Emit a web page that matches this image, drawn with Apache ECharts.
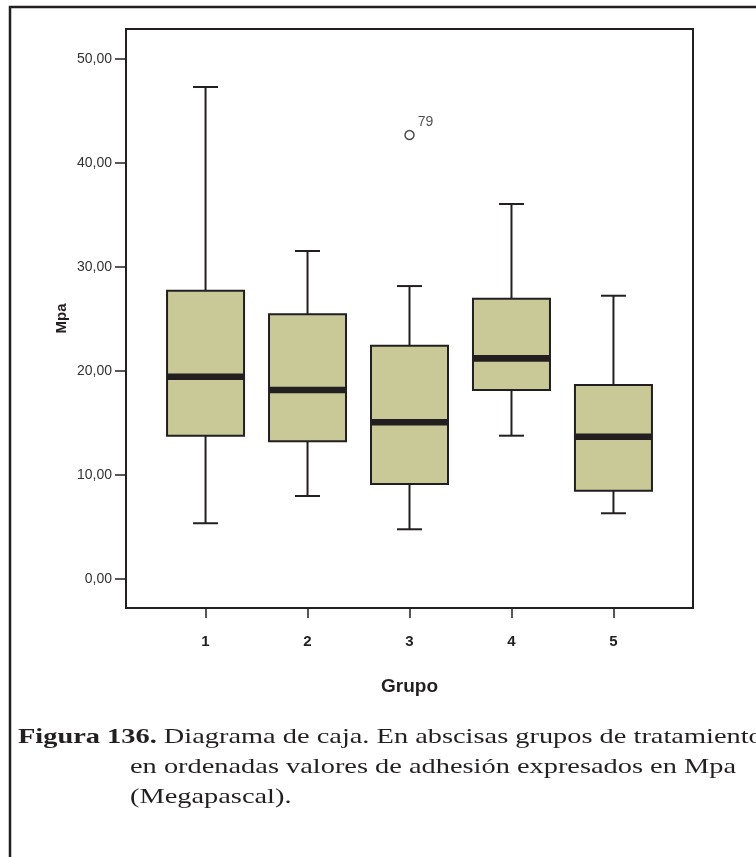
<!DOCTYPE html>
<html>
<head>
<meta charset="utf-8">
<script src="https://cdn.jsdelivr.net/npm/echarts@6/dist/echarts.min.js"></script>
<style>
  html, body { margin: 0; padding: 0; background: #fff; }
  #chart { width: 756px; height: 857px; }
</style>
</head>
<body>
<div id="chart"></div>
<script>
// ---- data ----
const groups = [1, 2, 3, 4, 5];
const whiskerLow = [5.33, 7.95, 4.75, 13.75, 6.29];
const q1 = [13.75, 13.21, 9.11, 18.14, 8.46];
const medians = [19.42, 18.14, 15.04, 21.19, 13.65];
const q3 = [27.69, 25.42, 22.40, 26.92, 18.63];
const whiskerHigh = [47.28, 31.51, 28.14, 36.03, 27.21];
const outlierGroups = [3];
const outlierValues = [42.66];
const outlierLabels = ['79'];
const yTicks = [0, 10, 20, 30, 40, 50];

const boxData = groups.map((g, i) => [g, whiskerLow[i], q1[i], medians[i], q3[i], whiskerHigh[i]]);
const outlierData = outlierGroups.map((g, i) => ({ value: [g, outlierValues[i]], label: outlierLabels[i] }));

const dark = '#231f20';
const fill = '#c9c897';
const BOX_W = 77, CAP_W = 25;

const chart = echarts.init(document.getElementById('chart'), null, { renderer: 'canvas' });

function renderBox(params, api) {
  const x = api.value(0);
  const pMin = api.coord([x, api.value(1)]);
  const pQ1 = api.coord([x, api.value(2)]);
  const pMed = api.coord([x, api.value(3)]);
  const pQ3 = api.coord([x, api.value(4)]);
  const pMax = api.coord([x, api.value(5)]);
  const cx = pMed[0];
  const lineStyle = { stroke: dark, lineWidth: 2, fill: null };
  return {
    type: 'group',
    children: [
      { type: 'line', shape: { x1: cx, y1: pQ3[1], x2: cx, y2: pMax[1] }, style: lineStyle },
      { type: 'line', shape: { x1: cx - CAP_W / 2, y1: pMax[1], x2: cx + CAP_W / 2, y2: pMax[1] }, style: lineStyle },
      { type: 'line', shape: { x1: cx, y1: pQ1[1], x2: cx, y2: pMin[1] }, style: lineStyle },
      { type: 'line', shape: { x1: cx - CAP_W / 2, y1: pMin[1], x2: cx + CAP_W / 2, y2: pMin[1] }, style: lineStyle },
      { type: 'rect', shape: { x: cx - BOX_W / 2, y: pQ3[1], width: BOX_W, height: pQ1[1] - pQ3[1] },
        style: { fill: fill, stroke: dark, lineWidth: 2 } },
      { type: 'rect', shape: { x: cx - BOX_W / 2, y: pMed[1] - 3.3, width: BOX_W, height: 6.6 },
        style: { fill: dark } }
    ]
  };
}

const option = {
  animation: false,
  backgroundColor: '#fff',
  grid: {
    left: 126, top: 29, width: 567, height: 579,
    show: true, borderColor: dark, borderWidth: 2, backgroundColor: 'transparent'
  },
  xAxis: {
    type: 'value', min: 0.22, max: 5.78,
    name: 'Grupo', nameLocation: 'middle', nameGap: 69, nameMoveOverlap: false,
    nameTextStyle: { fontFamily: 'Liberation Sans', fontWeight: 'bold', fontSize: 19, color: dark },
    axisLine: { show: true, onZero: false, lineStyle: { color: dark, width: 2 } },
    axisTick: { show: true, customValues: groups, length: 10, lineStyle: { color: dark, width: 1.5 } },
    axisLabel: { customValues: groups, margin: 26, fontFamily: 'Liberation Sans', fontWeight: 'bold',
      fontSize: 15, color: dark },
    splitLine: { show: false }
  },
  yAxis: {
    type: 'value', min: -2.82, max: 52.86,
    name: 'Mpa', nameLocation: 'middle', nameGap: 57, nameRotate: 90, nameMoveOverlap: false,
    nameTextStyle: { fontFamily: 'Liberation Sans', fontWeight: 'bold', fontSize: 15, color: dark },
    axisLine: { show: true, onZero: false, lineStyle: { color: dark, width: 2 } },
    axisTick: { show: true, customValues: yTicks, length: 11, lineStyle: { color: dark, width: 1.5 } },
    axisLabel: { customValues: yTicks, margin: 14, fontFamily: 'Liberation Sans', fontSize: 14, color: '#333',
      formatter: v => v.toFixed(2).replace('.', ',') },
    splitLine: { show: false }
  },
  series: [
    {
      type: 'custom',
      renderItem: renderBox,
      data: boxData,
      encode: { x: 0, y: [1, 2, 3, 4, 5] },
      clip: false
    },
    {
      type: 'scatter',
      data: outlierData,
      symbol: 'circle', symbolSize: 9,
      itemStyle: { color: '#fff', borderColor: dark, borderWidth: 1.5 },
      label: { show: true, position: 'right', offset: [-2, -13], formatter: p => p.data.label,
        fontFamily: 'Liberation Sans', fontSize: 14, color: dark },
      emphasis: { disabled: true }
    }
  ],
  graphic: [
    { type: 'rect', shape: { x: 10, y: 7, width: 900, height: 900 },
      style: { fill: null, stroke: dark, lineWidth: 2.5 }, silent: true },
    { type: 'text', x: 18, y: 737, scaleX: 1.29,
      style: {
        text: '{b|Figura 136.} Diagrama de caja. En abscisas grupos de tratamiento,',
        fontFamily: 'Liberation Serif', fontSize: 22, fill: dark, verticalAlign: 'middle',
        rich: { b: { fontFamily: 'Liberation Serif', fontWeight: 'bold', fontSize: 22, fill: dark } }
      } },
    { type: 'text', x: 130, y: 767, scaleX: 1.29,
      style: { text: 'en ordenadas valores de adhesión expresados en Mpa',
        fontFamily: 'Liberation Serif', fontSize: 22, fill: dark, verticalAlign: 'middle' } },
    { type: 'text', x: 130, y: 797, scaleX: 1.29,
      style: { text: '(Megapascal).',
        fontFamily: 'Liberation Serif', fontSize: 22, fill: dark, verticalAlign: 'middle' } }
  ]
};
chart.setOption(option);
</script>
</body>
</html>
